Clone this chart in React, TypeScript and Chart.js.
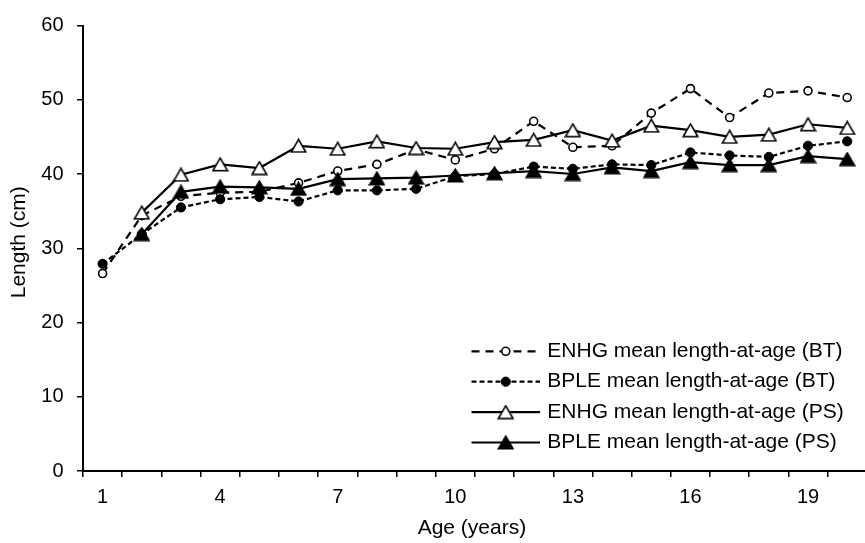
import React, { useEffect, useRef } from "react";
import { Chart, registerables } from "chart.js";

Chart.register(...registerables);

const ages = ["1","2","3","4","5","6","7","8","9","10","11","12","13","14","15","16","17","18","19","20"];

const enhgBT = [26.6, 34.4, 37.0, 37.5, 37.6, 38.8, 40.4, 41.3, 43.3, 41.9, 43.4, 47.1, 43.6, 43.8, 48.2, 51.5, 47.6, 50.9, 51.2, 50.3];
const bpleBT = [27.9, 31.9, 35.5, 36.6, 36.9, 36.3, 37.8, 37.8, 38.0, 39.7, 40.0, 41.0, 40.7, 41.3, 41.2, 42.9, 42.5, 42.3, 43.8, 44.4];
const enhgPS = [null, 34.8, 39.9, 41.3, 40.8, 43.8, 43.4, 44.4, 43.5, 43.4, 44.3, 44.6, 45.9, 44.5, 46.5, 45.9, 45.0, 45.3, 46.7, 46.2];
const bplePS = [null, 31.9, 37.6, 38.3, 38.2, 38.0, 39.3, 39.4, 39.5, 39.8, 40.1, 40.4, 40.0, 40.9, 40.4, 41.6, 41.2, 41.2, 42.4, 42.0];

const seriesNames = [
  "ENHG mean length-at-age (BT)",
  "BPLE mean length-at-age (BT)",
  "ENHG mean length-at-age (PS)",
  "BPLE mean length-at-age (PS)",
];

const yTicks = [0, 10, 20, 30, 40, 50, 60];
const xTitle = "Age (years)";
const yTitle = "Length (cm)";

const FONT = "'Liberation Sans', Arial, Helvetica, sans-serif";

function makeTriangle(filled: boolean): HTMLCanvasElement {
  const c = document.createElement("canvas");
  c.width = 17;
  c.height = 15;
  const ctx = c.getContext("2d")!;
  ctx.beginPath();
  ctx.moveTo(8.5, 1.2);
  ctx.lineTo(15.8, 13.8);
  ctx.lineTo(1.2, 13.8);
  ctx.closePath();
  ctx.fillStyle = filled ? "#000" : "#fff";
  ctx.fill();
  ctx.lineWidth = 1.6;
  ctx.strokeStyle = "#000";
  ctx.lineJoin = "miter";
  ctx.stroke();
  return c;
}

export default function App() {
  const ref = useRef<HTMLCanvasElement | null>(null);

  useEffect(() => {
    if (!ref.current) return;
    const openTri = makeTriangle(false);
    const fillTri = makeTriangle(true);

    const decorPlugin = {
      id: "decor",
      afterDraw(chart: any) {
        const { ctx, chartArea } = chart;
        // axis titles
        ctx.save();
        ctx.fillStyle = "#000";
        ctx.font = `21px ${FONT}`;
        ctx.textAlign = "center";
        ctx.textBaseline = "middle";
        ctx.fillText(xTitle, (chartArea.left + chartArea.right) / 2 - 3, 528);
        ctx.translate(19, (chartArea.top + chartArea.bottom) / 2 - 6);
        ctx.rotate(-Math.PI / 2);
        ctx.fillText(yTitle, 0, 0);
        ctx.restore();

        // legend
        const spacing = 30.4;
        const lastY = chartArea.bottom - 28.5;
        const lineX0 = chartArea.left + 388.5;
        const lineX1 = chartArea.left + 457;
        const markX = (lineX0 + lineX1) / 2;
        const textX = chartArea.left + 464.3;
        chart.data.datasets.forEach((ds: any, i: number) => {
          const y = lastY - (3 - i) * spacing;
          ctx.save();
          ctx.strokeStyle = "#000";
          ctx.lineWidth = ds.borderWidth;
          ctx.setLineDash(ds.borderDash || []);
          ctx.beginPath();
          ctx.moveTo(lineX0, y);
          ctx.lineTo(lineX1, y);
          ctx.stroke();
          ctx.setLineDash([]);
          const ps = ds.pointStyle;
          if (ps instanceof HTMLCanvasElement) {
            ctx.drawImage(ps, markX - ps.width / 2, y - ps.height / 2);
          } else {
            ctx.beginPath();
            ctx.arc(markX, y, ds.pointRadius, 0, Math.PI * 2);
            ctx.fillStyle = ds.pointBackgroundColor;
            ctx.fill();
            ctx.lineWidth = ds.pointBorderWidth;
            ctx.strokeStyle = "#000";
            ctx.stroke();
          }
          ctx.fillStyle = "#000";
          ctx.font = `21px ${FONT}`;
          ctx.textBaseline = "middle";
          ctx.textAlign = "left";
          ctx.fillText(seriesNames[i], textX, y);
          ctx.restore();
        });
      },
    };

    const chart = new Chart(ref.current, {
      type: "line",
      data: {
        labels: ages,
        datasets: [
          {
            label: seriesNames[0],
            data: enhgBT,
            borderColor: "#000",
            borderWidth: 2.2,
            borderDash: [8, 6],
            pointStyle: "circle",
            pointRadius: 4,
            pointBackgroundColor: "#fff",
            pointBorderColor: "#000",
            pointBorderWidth: 1.6,
            order: 4,
          },
          {
            label: seriesNames[1],
            data: bpleBT,
            borderColor: "#000",
            borderWidth: 2.2,
            borderDash: [5, 3],
            pointStyle: "circle",
            pointRadius: 4.6,
            pointBackgroundColor: "#000",
            pointBorderColor: "#000",
            pointBorderWidth: 1,
            order: 3,
          },
          {
            label: seriesNames[2],
            data: enhgPS,
            borderColor: "#000",
            borderWidth: 2.2,
            pointStyle: openTri,
            pointRadius: 7,
            order: 2,
          },
          {
            label: seriesNames[3],
            data: bplePS,
            borderColor: "#000",
            borderWidth: 2.2,
            pointStyle: fillTri,
            pointRadius: 7,
            order: 1,
          },
        ] as any,
      },
      options: {
        responsive: false,
        animation: false,
        devicePixelRatio: 1,
        layout: { padding: { left: 0, right: 1, top: 15, bottom: 0 } },
        plugins: {
          legend: { display: false },
          tooltip: { enabled: false },
        },
        elements: { line: { tension: 0 } },
        scales: {
          x: {
            type: "category",
            offset: true,
            grid: {
              display: true,
              offset: true,
              drawOnChartArea: false,
              drawTicks: true,
              tickLength: 6,
              color: "#000",
              lineWidth: 1.5,
            },
            border: { display: true, color: "#000", width: 2 },
            ticks: {
              autoSkip: false,
              maxRotation: 0,
              padding: 8,
              color: "#000",
              font: { family: FONT, size: 20 },
              callback: (_v: any, i: number) => (i % 3 === 0 ? ages[i] : ""),
            },
            afterFit: (s: any) => {
              s.height = 72;
            },
          },
          y: {
            min: 0,
            max: 60,
            afterBuildTicks: (s: any) => {
              s.ticks = yTicks.map((v) => ({ value: v }));
            },
            grid: {
              display: true,
              drawOnChartArea: false,
              drawTicks: true,
              tickLength: 6,
              color: "#000",
              lineWidth: 1.5,
            },
            border: { display: true, color: "#000", width: 2 },
            ticks: {
              padding: 13.5,
              color: "#000",
              font: { family: FONT, size: 20 },
            },
            afterFit: (s: any) => {
              s.width = 83;
            },
          },
        },
      },
      plugins: [decorPlugin],
    });
    return () => chart.destroy();
  }, []);

  return (
    <div
      style={{
        position: "fixed",
        left: 0,
        top: 0,
        width: 865,
        height: 543,
        overflow: "hidden",
        background: "#fff",
      }}
    >
      <canvas ref={ref} width={876} height={543} style={{ display: "block", width: 876, height: 543 }} />
    </div>
  );
}
